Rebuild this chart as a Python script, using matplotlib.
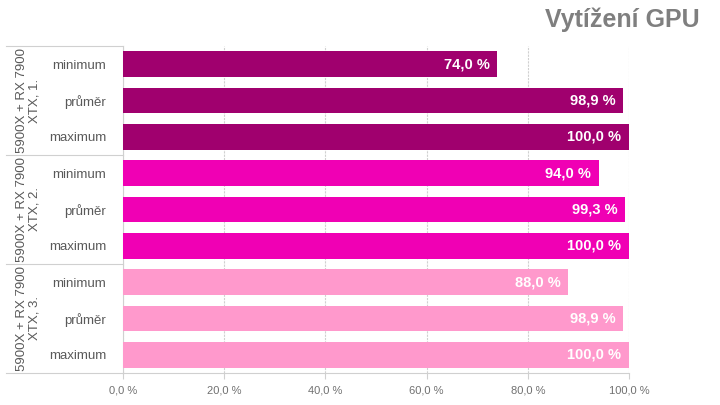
import numpy as np
import matplotlib
matplotlib.use("Agg")
import matplotlib.pyplot as plt

plt.rcParams['font.family'] = ['Liberation Sans', 'DejaVu Sans']

# data
groups = ["5900X + RX 7900\nXTX, 1.", "5900X + RX 7900\nXTX, 2.", "5900X + RX 7900\nXTX, 3."]
stats = ["minimum", "průměr", "maximum"]
values = [
    [74.0, 98.9, 100.0],
    [94.0, 99.3, 100.0],
    [88.0, 98.9, 100.0],
]
colors = ["#A0006E", "#F000B4", "#FF99CC"]
xticks = [0, 20, 40, 60, 80, 100]

fig = plt.figure(figsize=(7.2, 4.05), dpi=100)
ax = fig.add_axes([123 / 720, 1 - 373 / 405, (629 - 123) / 720, (373 - 46) / 405])

pos = 0
for gi, g in enumerate(groups):
    for si, s in enumerate(stats):
        v = values[gi][si]
        ax.barh(pos, v, height=0.7, color=colors[gi], zorder=3)
        label = f"{v:.1f} %".replace(".", ",")
        ax.text(v - 1.5, pos, label, ha="right", va="center", color="white",
                fontsize=10.5, fontweight="bold", zorder=4)
        pos += 1

n = len(groups) * len(stats)
ax.set_ylim(n - 0.5, -0.5)
ax.set_xlim(0, 100)
ax.set_yticks(range(n))
ax.set_yticklabels(stats * len(groups), fontsize=9.5, color="#595959")
ax.tick_params(axis="y", length=0, pad=12)
ax.set_xticks(xticks)
ax.set_xticklabels([f"{t:.1f} %".replace(".", ",") for t in xticks], fontsize=8, color="#707070")
ax.tick_params(axis="x", length=4, color="#d0d0d0", pad=5)
ax.grid(axis="x", color="#d0d0d0", linestyle=(0, (2, 1)), linewidth=0.8, zorder=0)
for side in ["top", "right"]:
    ax.spines[side].set_visible(False)
ax.spines["left"].set_color("#d0d0d0")
ax.spines["bottom"].set_color("#d0d0d0")

# group separators and labels in the left margin
trans = ax.get_yaxis_transform()
x_left = (6 - 123) / (629 - 123)
for b in np.arange(0, n + 1, len(stats)) - 0.5:
    ax.plot([x_left, 0], [b, b], transform=trans, color="#d0d0d0", lw=0.8, clip_on=False)
for gi, g in enumerate(groups):
    mid = gi * len(stats) + 1
    ax.text((28 - 123) / (629 - 123), mid, g, transform=trans, rotation=90,
            ha="center", va="center", fontsize=9.5, color="#595959", linespacing=1.1)

fig.text(700 / 720, 1 - 20 / 405, "Vytížení GPU", ha="right", va="center",
         fontsize=18, fontweight="bold", color="#7f7f7f")

fig.savefig("out.png", dpi=100)
